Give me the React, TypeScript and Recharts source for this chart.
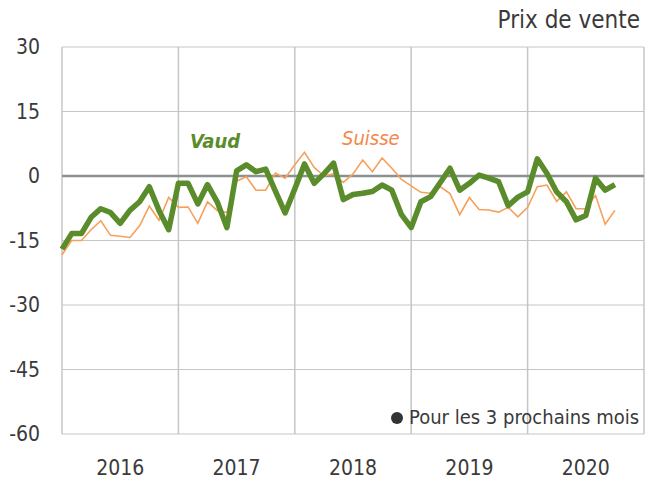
import { LineChart, Line, XAxis, YAxis, CartesianGrid, ReferenceLine } from "recharts";

// monthly, Jan 2016 .. Oct 2020
const years = ["2016", "2017", "2018", "2019", "2020"];

const vaud = [
  -17, -13.4, -13.4, -9.6, -7.6, -8.5, -11, -8, -6, -2.5, -8, -12.5,
  -1.7, -1.7, -6.5, -2, -6, -12, 1.2, 2.6, 1, 1.6, -3.5, -8.6,
  -3, 2.8, -1.7, 0.5, 3, -5.5, -4.3, -4, -3.6, -2.1, -3.3, -9,
  -12, -6, -4.8, -1.5, 1.8, -3.3, -1.7, 0.2, -0.5, -1.3, -6.9, -4.9,
  -3.7, 4, 0.6, -3.7, -6, -10.2, -9.2, -0.5, -3.3, -2,
];

const suisse = [
  -18.3, -15, -15, -12.5, -10.4, -13.8, -14, -14.3, -11.6, -7, -10.3, -5,
  -7.3, -7.2, -11, -6, -8, -8.5, -1.2, -0.2, -3.3, -3.3, 0.7, -0.5,
  2.6, 5.5, 2, 0, 0.5, -1.5, 0.5, 3.7, 1, 4.2, 1.8, -0.8,
  -2.3, -3.8, -4, -2.5, -4.1, -9, -5, -7.8, -7.9, -8.4, -7.3, -9.5,
  -7.3, -2.5, -2.1, -5.9, -3.7, -7.6, -7.6, -4.5, -11.2, -8,
];

const yTicks = [-60, -45, -30, -15, 0, 15, 30];

const data = vaud.map((v, i) => ({ m: i, vaud: v, suisse: suisse[i] }));

const FONT = "'DejaVu Sans', sans-serif";
const TEXT = "#3a3a3a";
const GREEN = "#5b8c2c";
const ORANGE = "#f6a05c";
const GRID = "#c4c6c6";

export default function App() {
  return (
    <div
      style={{
        position: "absolute", left: 0, top: 0, width: 646, height: 482,
        background: "#fff", fontFamily: FONT, fontStretch: "condensed", whiteSpace: "nowrap",
      }}
    >
      <LineChart width={646} height={482} data={data} margin={{ top: 47, right: 2, bottom: 0, left: 0 }}>
        <CartesianGrid vertical={false} stroke={GRID} strokeWidth={1.2} />
        <XAxis
          dataKey="m"
          type="number"
          domain={[0, 60]}
          ticks={[6, 18, 30, 42, 54]}
          tickFormatter={(v) => years[Math.floor(v / 12)]}
          axisLine={false}
          tickLine={false}
          tickMargin={20}
          height={48}
          tick={{ fontSize: 21, fill: TEXT, fontFamily: FONT }}
        />
        <YAxis
          domain={[-60, 30]}
          ticks={yTicks}
          axisLine={false}
          tickLine={false}
          width={62}
          tickMargin={16}
          tick={{ fontSize: 21, fill: TEXT, fontFamily: FONT }}
        />
        {[0, 12, 24, 36, 48, 60].map((x) => (
          <ReferenceLine key={x} x={x} stroke={GRID} strokeWidth={1.5} />
        ))}
        <ReferenceLine y={0} stroke="#8b9090" strokeWidth={2.5} />
        <Line type="linear" dataKey="suisse" stroke={ORANGE} strokeWidth={1.6} dot={false} isAnimationActive={false} />
        <Line type="linear" dataKey="vaud" stroke={GREEN} strokeWidth={5.5} strokeLinejoin="round" dot={false} isAnimationActive={false} />
      </LineChart>

      <div style={{ position: "absolute", right: 6, top: 6, fontSize: 24, color: TEXT }}>Prix de vente</div>
      <div style={{ position: "absolute", left: 190, top: 129, fontSize: 20, color: GREEN, fontWeight: "bold", fontStyle: "italic" }}>Vaud</div>
      <div style={{ position: "absolute", left: 342, top: 126, fontSize: 20, color: "#f58646", fontStyle: "italic" }}>Suisse</div>
      <div style={{ position: "absolute", left: 391, top: 412, width: 12, height: 12, borderRadius: 6, background: "#333" }} />
      <div style={{ position: "absolute", left: 409, top: 405, fontSize: 20, color: TEXT }}>Pour les 3 prochains mois</div>
    </div>
  );
}
